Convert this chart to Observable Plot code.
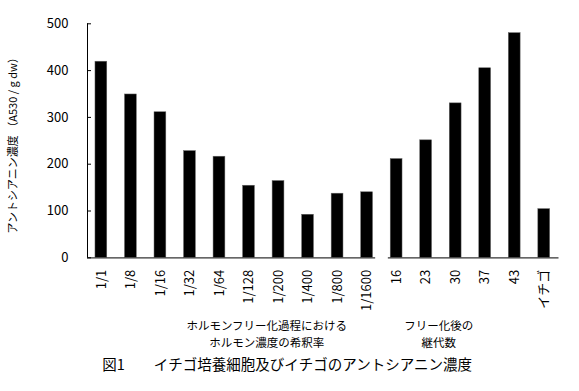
<!DOCTYPE html>
<html><head><meta charset="utf-8">
<script src="https://cdn.jsdelivr.net/npm/d3@7"></script>
<script src="https://cdn.jsdelivr.net/npm/@observablehq/plot@0.6"></script>
<style>body{margin:0;background:#fff;} svg{display:block}</style>
</head><body><div id="chart"></div>
<script>
const categories = ["1/1","1/8","1/16","1/32","1/64","1/128","1/200","1/400","1/800","1/1600","16","23","30","37","43","イチゴ"];
const values = [419,349,311,228,216,154,164,92,137,140,211,251,330,405,480,104];
const groupLabels = ["ホルモンフリー化過程における\nホルモン濃度の希釈率", "フリー化後の\n継代数"];
const groupStart = [0, 10];
const groupEnd = [9, 15];
const yTicks = [0,100,200,300,400,500];
const yTitle = "アントシアニン濃度 （A530 / g dw）";
const caption = "図1　　イチゴ培養細胞及びイチゴのアントシアニン濃度";

const data = categories.map((c, i) => ({i, c, v: values[i]}));
const xMin = -0.47, xMax = 15.5;
const segments = groupStart.map((s, k) => ({
  x1: k === 0 ? xMin : s - 0.28,
  x2: k === groupStart.length - 1 ? xMax : groupEnd[k] + 0.29
}));
const groups = groupLabels.map((label, k) => ({label, k, mid: (groupStart[k] + groupEnd[k]) / 2}));

const chart = Plot.plot({
  width: 579, height: 391,
  marginLeft: 87, marginRight: 20.5, marginTop: 23.3, marginBottom: 133.7,
  style: {fontFamily: "'Noto Sans CJK JP', sans-serif", background: "#fff", color: "#000"},
  x: {type: "linear", domain: [xMin, xMax], axis: null},
  y: {domain: [0, 500], axis: null},
  marks: [
    Plot.rectY(data, {x1: d => d.i - 0.2, x2: d => d.i + 0.2, y1: 0, y2: "v", fill: "#000", stroke: "#666", strokeWidth: 0.5}),
    Plot.ruleY(segments, {y: () => 0, x1: "x1", x2: "x2", stroke: "#333", strokeWidth: 1.2}),
    Plot.ruleX([xMin], {y1: 0, y2: 500, stroke: "#000"}),
    Plot.axisY({ticks: yTicks, tickSize: -4, tickPadding: 23, fontSize: 13, label: null}),
    Plot.axisX({ticks: d3.range(categories.length), tickFormat: i => categories[i], tickRotate: -90, tickSize: 0, tickPadding: 12, fontSize: 13, label: null}),
    Plot.text([yTitle], {frameAnchor: "left", textAnchor: "middle", rotate: -90, dx: -74, dy: 2, fontSize: 11}),
    Plot.text(groups, {x: d => d.mid + (d.k === 0 ? 1.1 : -1.07), frameAnchor: "bottom", lineAnchor: "top", dy: 60, text: "label", fontSize: 11.5, lineHeight: 1.5}),
    Plot.text([caption], {frameAnchor: "bottom-left", textAnchor: "start", dx: 14.7, dy: 108, lineAnchor: "middle", fontSize: 14.5})
  ]
});
document.getElementById("chart").appendChild(chart);
</script>
</body></html>
